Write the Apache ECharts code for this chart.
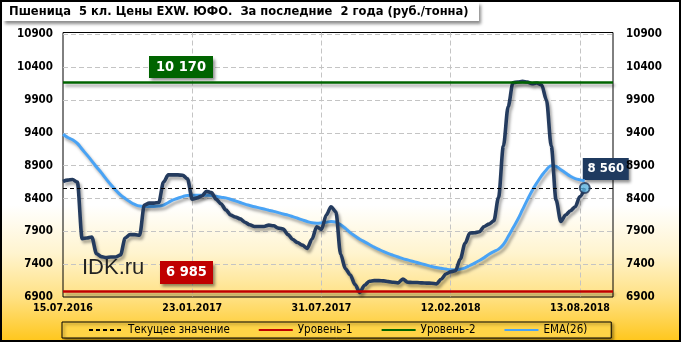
<!DOCTYPE html>
<html><head><meta charset="utf-8">
<script src="https://cdn.jsdelivr.net/npm/echarts@6/dist/echarts.min.js"></script>
<style>
html,body{margin:0;padding:0;}
#c{width:681px;height:342px;background:linear-gradient(to bottom,#ffffff 0%,#ffffff 60%,#fff4cf 74%,#ffe183 87%,#ffc61a 100%);}
</style></head><body><div id="c"></div>
<script>
const titleText = 'Пшеница  5 кл. Цены EXW. ЮФО.  За последние  2 года (руб./тонна)';
const xTickLabels = ['15.07.2016','23.01.2017','31.07.2017','12.02.2018','13.08.2018'];
const xTickStep = 27;
const yMin = 6900, yMax = 10930, yStep = 500;
const level1 = 6985;
const level2 = 10170;
const legendNames = ['Текущее значение','Уровень-1','Уровень-2','EMA(26)'];
const priceValues = [8660,8680,8690,8650,7790,7800,7815,7560,7515,7500,
 7510,7510,7540,7800,7850,7850,7840,8300,8330,8330,
 8340,8650,8760,8760,8760,8755,8700,8390,8410,8440,
 8510,8490,8390,8320,8230,8150,8120,8090,8040,8000,
 7975,7975,7975,7995,7985,7950,7935,7850,7775,7730,
 7690,7640,7780,7970,7930,8150,8275,8200,7550,7330,
 7240,7090,6970,7080,7140,7150,7150,7145,7135,7125,
 7115,7175,7125,7120,7120,7115,7112,7110,7100,7170,
 7250,7285,7300,7480,7720,7875,7880,7895,7975,8010,
 8060,8420,9200,9800,10165,10175,10185,10175,10150,10160,
 10130,9900,9200,8380,8050,8150,8215,8275,8430,8560];
const emaValues = [9380,9330,9295,9240,9150,9065,8975,8880,8795,8700,
 8610,8530,8455,8400,8350,8310,8285,8280,8280,8280,
 8285,8300,8340,8378,8405,8430,8447,8450,8450,8450,
 8450,8448,8435,8420,8410,8390,8365,8340,8315,8295,
 8275,8258,8240,8222,8205,8185,8165,8148,8125,8100,
 8075,8050,8030,8025,8030,8040,8050,8040,8000,7945,
 7880,7830,7780,7740,7700,7660,7625,7590,7560,7535,
 7510,7485,7465,7445,7425,7405,7385,7365,7350,7338,
 7325,7315,7315,7325,7345,7380,7415,7455,7500,7550,
 7592,7630,7700,7820,7950,8080,8230,8380,8520,8640,
 8750,8840,8900,8890,8840,8790,8740,8705,8685,8670];

const n = priceValues.length;
const lastVal = priceValues[n-1];
const FONT = '"DejaVu Sans Condensed","DejaVu Sans",sans-serif';
const shadow = {shadowColor:'rgba(0,0,0,0.35)',shadowBlur:3,shadowOffsetX:2,shadowOffsetY:3};
const fmt = v => String(v).replace(/\B(?=(\d{3})+(?!\d))/g,' ');

const chart = echarts.init(document.getElementById('c'), null, {renderer:'canvas'});
const yAxisBase = {type:'value',min:yMin,max:yMax,interval:yStep,
  axisLine:{show:false},axisTick:{show:false}};
const yLabel = m => ({showMaxLabel:false,margin:m,color:'#000',fontFamily:FONT,fontWeight:'bold',fontSize:11.5,
  formatter:v=>String(v)});
const gridLine = {show:true,showMinLine:false,showMaxLine:false,lineStyle:{color:'#c4c4c4',type:[5,3],width:1}};
chart.setOption({
  animation:false,
  backgroundColor:'transparent',
  grid:{left:63,right:68,top:32.5,bottom:45,show:true,borderColor:'#000',borderWidth:1,backgroundColor:'transparent'},
  xAxis:{type:'value',min:0,max:114.9,interval:xTickStep,
    axisLine:{show:false},axisTick:{show:false},
    axisLabel:{showMaxLabel:false,margin:6,color:'#000',fontFamily:FONT,fontWeight:'bold',fontSize:10.5,
      formatter:v=> (Math.abs(v % xTickStep) < 1e-6 ? (xTickLabels[Math.round(v/xTickStep)]||'') : '')},
    splitLine:gridLine},
  yAxis:[Object.assign({},yAxisBase,{position:'left',axisLabel:yLabel(10),splitLine:gridLine}),
    Object.assign({},yAxisBase,{position:'right',axisLabel:yLabel(13),splitLine:{show:false}})],
  legend:{left:62,top:322,orient:'horizontal',itemWidth:34,itemHeight:8,itemGap:28,padding:[2,24,2,26],
    backgroundColor:'#ffd447',borderColor:'#000',borderWidth:1,
    shadowColor:'rgba(0,0,0,0.45)',shadowBlur:3,shadowOffsetX:2,shadowOffsetY:2,
    itemStyle:{opacity:0},
    textStyle:{fontFamily:FONT,fontSize:11.5,color:'#000'},
    data:legendNames},
  series:[
    {type:'line',name:'Цена',data:priceValues.map((v,i)=>[i,v]),symbol:'none',smooth:0.3,smoothMonotone:'x',
      lineStyle:Object.assign({color:'#243b5e',width:3.6},shadow),itemStyle:{color:'#243b5e'},z:4},
    {type:'line',name:legendNames[3],data:emaValues.map((v,i)=>[i,v]),symbol:'none',smooth:0.4,
      lineStyle:Object.assign({color:'#49a3f5',width:3},shadow),itemStyle:{color:'#49a3f5'},z:3},
    {type:'line',name:legendNames[0],data:[],symbol:'none',
      lineStyle:{color:'#000',type:[4,3],width:1},itemStyle:{color:'#000'},
      markLine:{symbol:'none',silent:true,label:{show:false},lineStyle:{color:'#000',type:[4,3],width:1},
        data:[{yAxis:lastVal}]},z:2},
    {type:'line',name:legendNames[1],data:[],symbol:'none',
      lineStyle:{color:'#c00000',width:3},itemStyle:{color:'#c00000'},
      markLine:{symbol:'none',silent:true,label:{show:false},lineStyle:Object.assign({color:'#c00000',type:'solid',width:2.5},shadow),
        data:[{yAxis:level1}]},z:5},
    {type:'line',name:legendNames[2],data:[],symbol:'none',
      lineStyle:{color:'#006400',width:3},itemStyle:{color:'#006400'},
      markLine:{symbol:'none',silent:true,label:{show:false},lineStyle:Object.assign({color:'#006400',type:'solid',width:2.5},shadow),
        data:[{yAxis:level2}]},z:5},
    {type:'scatter',name:'last',data:[[n-1,lastVal]],symbol:'circle',symbolSize:10,
      itemStyle:{color:'#5cb3e0',borderColor:'#1f3558',borderWidth:2},z:10}
  ]
});

const px = (x,y) => chart.convertToPixel({gridIndex:0},[x,y]);
function box(left, bottom, w, h, fill, text, fs){
  return {type:'group',z:100,children:[
    {type:'rect',shape:{x:left,y:bottom-h,width:w,height:h},
      style:{fill:fill,shadowColor:'rgba(0,0,0,0.45)',shadowBlur:3,shadowOffsetX:2,shadowOffsetY:3}},
    {type:'text',style:{x:left+w/2,y:bottom-h/2,text:text,fill:'#fff',align:'center',verticalAlign:'middle',
      font:'bold '+fs+'px '+FONT}}
  ]};
}
const p1 = px(0,level1), p2 = px(0,level2), pl = px(n-1,lastVal);
chart.setOption({graphic:[
  {type:'group',z:100,children:[
    {type:'rect',shape:{x:3,y:2,width:476,height:19},
      style:{fill:'#fff',shadowColor:'rgba(0,0,0,0.45)',shadowBlur:3,shadowOffsetX:2,shadowOffsetY:3}},
    {type:'text',style:{x:9,y:12,text:titleText,fill:'#000',verticalAlign:'middle',font:'bold 12.8px '+FONT}}
  ]},
  {type:'text',z:100,style:{x:82,y:268,text:'IDK.ru',fill:'#222',verticalAlign:'middle',font:'22px "Liberation Sans", Arial, sans-serif'}},
  box(181-32, p2[1]-4.5, 64, 22, '#006400', fmt(level2), 14.5),
  box(186.5-26.5, p1[1]-7.5, 53, 23, '#c00000', fmt(level1), 14.5),
  box(pl[0]-2, pl[1]-8, 46, 22, '#1f3a5f', fmt(lastVal), 13),
  {type:'rect',z:200,shape:{x:1,y:1,width:679,height:340},style:{fill:null,stroke:'#000',lineWidth:2}}
]});
</script></body></html>
